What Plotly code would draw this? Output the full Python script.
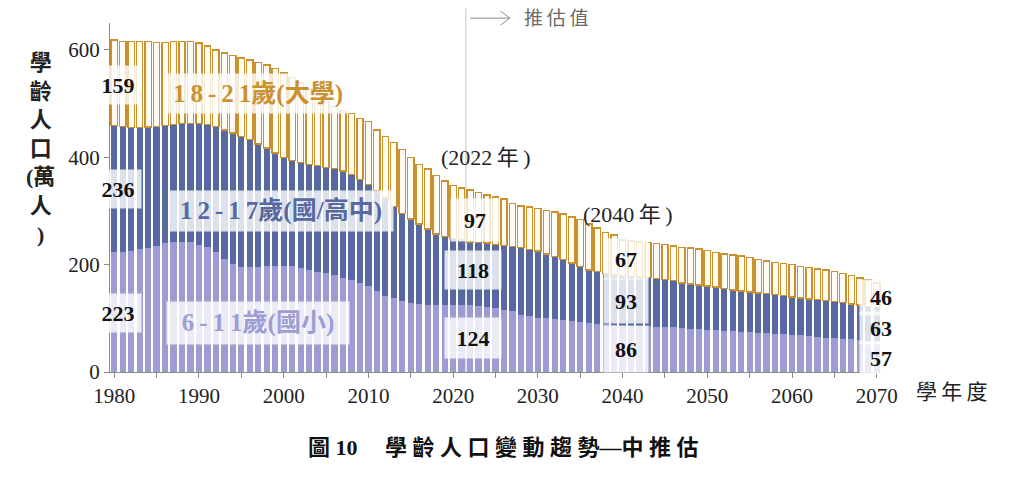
import plotly.graph_objects as go

years = list(range(1980, 2071))

# 6-11歲(國小), 萬人
age_6_11 = [
    223, 224, 226, 229, 231, 235, 240, 243, 243, 242,
    237, 232, 223, 210, 201, 196, 195, 196, 198, 198,
    198, 197, 194, 190, 187, 184, 181, 175, 172, 166,
    160, 150, 141, 137, 132, 129, 126, 124, 124, 124,
    124, 124, 124, 123, 122, 119, 116, 113, 107, 104,
    101, 100, 98, 96, 95, 94, 92, 90, 89, 87,
    86, 86, 86, 85, 84, 84, 84, 82, 81, 80,
    79, 78, 77, 76, 75, 74, 73, 72, 71, 70,
    69, 68, 67, 66, 64, 63, 62, 61, 60, 58,
    57,
]
# 12-17歲(國/高中)
age_12_17 = [
    236, 233, 229, 226, 225, 222, 219, 218, 220, 221,
    226, 229, 234, 241, 244, 243, 238, 229, 219, 210,
    201, 197, 196, 196, 198, 197, 198, 199, 196, 193,
    189, 188, 183, 171, 163, 156, 150, 142, 133, 128,
    125, 122, 118, 118, 118, 119, 120, 121, 125, 124,
    124, 120, 117, 113, 108, 103, 98, 97, 94, 94,
    93, 92, 91, 91, 90, 88, 86, 84, 83, 82,
    81, 80, 78, 77, 76, 75, 74, 74, 73, 72,
    71, 70, 69, 69, 69, 68, 67, 66, 65, 64,
    63,
]
# 18-21歲(大學)
age_18_21 = [
    159, 159, 161, 160, 159, 157, 155, 154, 153, 153,
    150, 146, 143, 143, 144, 146, 148, 152, 155, 157,
    158, 154, 148, 141, 130, 123, 115, 113, 114, 113,
    117, 113, 115, 119, 119, 114, 111, 112, 109, 104,
    98, 97, 97, 93, 90, 88, 86, 80, 77, 79,
    80, 81, 83, 85, 86, 87, 86, 81, 77, 74,
    67, 66, 65, 65, 65, 65, 65, 66, 67, 67,
    66, 65, 65, 65, 65, 64, 63, 61, 60, 60,
    60, 59, 59, 57, 57, 56, 54, 53, 50, 49,
    46,
]

tick_years = [1980, 1990, 2000, 2010, 2020, 2030, 2040, 2050, 2060, 2070]

serif = "Liberation Serif, Noto Sans CJK TC, serif"
ts = "\u2009"  # thin space, to spread characters like the original


def spread(s, sep=ts):
    return sep.join(list(s))


fig = go.Figure()
fig.add_bar(x=years, y=age_6_11, name="6-11歲(國小)",
            marker=dict(color="#9d9dd3", line=dict(width=0)))
fig.add_bar(x=years, y=age_12_17, name="12-17歲(國/高中)",
            marker=dict(color="#5769a0", line=dict(width=0)))
fig.add_bar(x=years, y=age_18_21, name="18-21歲(大學)",
            marker=dict(color="#fffbf3", line=dict(width=1.4, color="#c9922e")))

# estimate boundary line + arrow
fig.add_shape(type="line", xref="x", yref="paper", x0=2021.5, x1=2021.5,
              y0=0, y1=1.06, line=dict(color="#c4c4c4", width=1), layer="below")
fig.add_shape(type="path", xref="x", yref="paper",
              path="M 2022,1.014 L 2026.7,1.014 M 2025.6,1.034 L 2026.7,1.014 L 2025.6,0.994",
              line=dict(color="#888888", width=1))
fig.add_annotation(x=2032.2, y=1.014, xref="x", yref="paper", text=spread("推估值"),
                   showarrow=False, xanchor="center", yanchor="middle",
                   font=dict(family=serif, size=19, color="#6a6a6a"))

box = "rgba(255,255,255,0.8)"


def num_label(x, y, txt, w=44, h=36):
    fig.add_annotation(x=x, y=y, text="<b>" + txt + "</b>", showarrow=False,
                       font=dict(family=serif, size=22, color="#111111"),
                       bgcolor=box, width=w, height=h)


# left-side labels (1980)
num_label(1980.5, 535, "159")
num_label(1980.5, 340, "236")
num_label(1980.5, 110, "223")
# 2022
num_label(2022.6, 284, "97", w=46, h=40)
num_label(2022.4, 190, "118", w=54, h=36)
num_label(2022.4, 63, "124", w=54, h=38)
# 2040
num_label(2040.4, 210, "67", w=42, h=38)
num_label(2040.4, 132, "93", w=42, h=42)
num_label(2040.4, 43, "86", w=42, h=44)
# 2070
num_label(2070.5, 138, "46", w=40, h=33)
num_label(2070.5, 82, "63", w=40, h=30)
num_label(2070.5, 27, "57", w=40, h=30)

fig.add_annotation(x=2023.8, y=400, text="(2022" + ts + "年" + ts + ")", showarrow=False,
                   font=dict(family=serif, size=22, color="#222222"))
fig.add_annotation(x=2040.6, y=293, text="(2040" + ts + "年" + ts + ")", showarrow=False,
                   font=dict(family=serif, size=22, color="#222222"))


def series_label(x, y, nums, rest, color, w, h):
    fig.add_annotation(x=x, y=y, text="<b>" + spread(nums) + rest + "</b>",
                       showarrow=False, font=dict(family=serif, size=25, color=color),
                       bgcolor=box, width=w, height=h)


series_label(1997.0, 519, "18-21", "歲(大學)", "#c9922e", 180, 37)
series_label(1999.7, 300, "12-17", "歲(國/高中)", "#5769a0", 222, 38)
series_label(1997.0, 91, "6-11", "歲(國小)", "#9d9dd3", 180, 40)

# axis titles and caption
fig.add_annotation(x=-0.09, y=0.64, xref="paper", yref="paper",
                   text="<b>學<br>齡<br>人<br>口<br>(萬<br>人<br>)</b>", showarrow=False,
                   xanchor="center", yanchor="middle",
                   font=dict(family=serif, size=22, color="#222222"))
fig.add_annotation(x=1.091, y=-0.057, xref="paper", yref="paper", text=spread("學年度"),
                   showarrow=False, xanchor="center", yanchor="middle",
                   font=dict(family=serif, size=21, color="#222222"))
fig.add_annotation(x=0.51, y=-0.215, xref="paper", yref="paper",
                   text="<b>圖 10" + "\u3000 " + spread("學齡人口變動趨勢", " ") + "—"
                        + spread("中推估", " ") + "</b>",
                   showarrow=False, xanchor="center", yanchor="middle",
                   font=dict(family=serif, size=22, color="#111111"))

fig.update_layout(
    barmode="stack",
    bargap=0.26,
    width=1024,
    height=477,
    margin=dict(l=102, r=151, t=15, b=113),
    paper_bgcolor="white",
    plot_bgcolor="white",
    showlegend=False,
    font=dict(family=serif, color="#222222"),
    xaxis=dict(
        range=[1979.5, 2070.5],
        tickvals=tick_years,
        ticks="outside",
        ticklen=5,
        tickcolor="#8a8a8a",
        showline=True,
        linecolor="#8a8a8a",
        showgrid=False,
        zeroline=False,
        tickfont=dict(family=serif, size=21, color="#222222"),
        minor=dict(dtick=5, tick0=1980, ticks="outside", ticklen=5, tickcolor="#8a8a8a"),
    ),
    yaxis=dict(
        range=[0, 650],
        tickvals=[0, 200, 400, 600],
        ticks="outside",
        ticklen=5,
        tickcolor="#8a8a8a",
        showline=True,
        linecolor="#8a8a8a",
        showgrid=False,
        zeroline=False,
        tickfont=dict(family=serif, size=21, color="#222222"),
    ),
)

fig.write_html("out.html")
